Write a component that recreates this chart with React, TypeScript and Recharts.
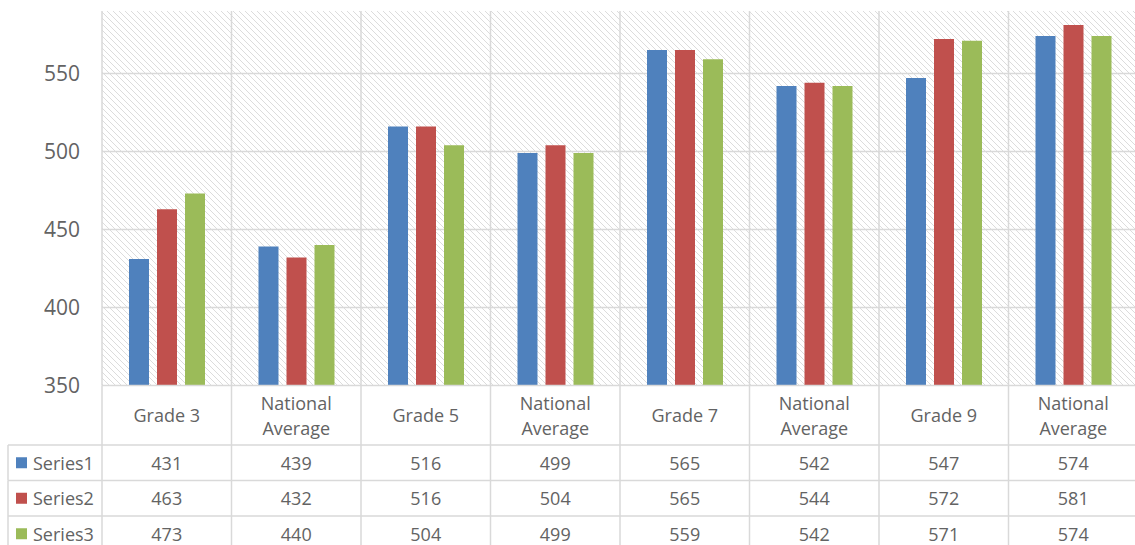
import React from 'react'
import { BarChart, Bar, XAxis, YAxis, CartesianGrid } from 'recharts'

const categories = [
  'Grade 3',
  'National Average',
  'Grade 5',
  'National Average',
  'Grade 7',
  'National Average',
  'Grade 9',
  'National Average',
]
const series1 = [431, 439, 516, 499, 565, 542, 547, 574]
const series2 = [463, 432, 516, 504, 565, 544, 572, 581]
const series3 = [473, 440, 504, 499, 559, 542, 571, 574]
const yTicks = [350, 400, 450, 500, 550]
const yDomain = [350, 590]

const seriesList = [
  { key: 's1', name: 'Series1', values: series1, color: '#4F81BD' },
  { key: 's2', name: 'Series2', values: series2, color: '#C0504D' },
  { key: 's3', name: 'Series3', values: series3, color: '#9BBB59' },
]

const data = categories.map((name, i) => ({
  name,
  s1: series1[i],
  s2: series2[i],
  s3: series3[i],
}))

const CHART_W = 1138
const CHART_H = 545
const Y_AXIS_W = 102
const BAND = (CHART_W - Y_AXIS_W) / categories.length
const HEADER_H = 59.5
const ROW_H = 35.5
const TABLE_LEFT = 8
const GRID = '#d9d9d9'
const TEXT = '#636363'
const FONT = '"Open Sans", sans-serif'

const TableTick = (props: any) => {
  const { x, y, payload, index } = props
  const left = x - BAND / 2
  const right = x + BAND / 2
  const label = String(payload.value)
  const lines = label.length > 10 ? label.split(' ') : [label]
  const lineH = 25
  const startY = y + HEADER_H / 2 - ((lines.length - 1) * lineH) / 2
  const rowTop = y + HEADER_H
  return (
    <g>
      <line x1={right} y1={y} x2={right} y2={CHART_H} stroke={GRID} strokeWidth={1.5} />
      {index === 0 && (
        <line x1={left} y1={y} x2={left} y2={CHART_H} stroke={GRID} strokeWidth={1.5} />
      )}
      {lines.map((l, i) => (
        <text
          key={i}
          x={x}
          y={startY + i * lineH}
          textAnchor="middle"
          dominantBaseline="central"
          fill={TEXT}
          fontSize={18}
          fontFamily={FONT}
        >
          {l}
        </text>
      ))}
      {seriesList.map((s, r) => {
        const top = rowTop + r * ROW_H
        return (
          <g key={s.key}>
            <line
              x1={index === 0 ? TABLE_LEFT : left}
              y1={top}
              x2={right}
              y2={top}
              stroke={GRID}
              strokeWidth={1.5}
            />
            <text
              x={x}
              y={top + ROW_H / 2}
              textAnchor="middle"
              dominantBaseline="central"
              fill={TEXT}
              fontSize={18}
              fontFamily={FONT}
            >
              {s.values[index]}
            </text>
            {index === 0 && (
              <g>
                <line x1={TABLE_LEFT} y1={top} x2={TABLE_LEFT} y2={top + ROW_H} stroke={GRID} strokeWidth={1.5} />
                <rect x={16} y={top + ROW_H / 2 - 5.5} width={11} height={11} fill={s.color} />
                <text
                  x={33}
                  y={top + ROW_H / 2}
                  dominantBaseline="central"
                  fill={TEXT}
                  fontSize={18}
                  fontFamily={FONT}
                >
                  {s.name}
                </text>
              </g>
            )}
          </g>
        )
      })}
    </g>
  )
}

export default function App() {
  return (
    <div style={{ position: 'absolute', left: 0, top: 0, width: 1135, height: 545, overflow: 'hidden', background: '#fff' }}>
      <BarChart
        width={CHART_W}
        height={CHART_H}
        data={data}
        margin={{ top: 11, right: 0, bottom: 0, left: 0 }}
        barSize={20}
        barGap={8}
      >
        <defs>
          <pattern id="hatch" width="6" height="6" patternUnits="userSpaceOnUse">
            <rect width="6" height="6" fill="#ffffff" />
            <path d="M-1,-1 L7,7 M-1,5 L1,7 M5,-1 L7,1" stroke="#dcdcdc" strokeWidth={1} />
          </pattern>
        </defs>
        <CartesianGrid
          stroke={GRID}
          strokeWidth={1.5}
          fill="url(#hatch)"
          fillOpacity={1}
          horizontalCoordinatesGenerator={({ offset }: any) =>
            yTicks
              .filter((t) => t !== yTicks[0])
              .map((t) => offset.top + (offset.height * (yDomain[1] - t)) / (yDomain[1] - yDomain[0]))
          }
          verticalCoordinatesGenerator={({ offset }: any) =>
            Array.from({ length: categories.length + 1 }, (_, i) => offset.left + (i * offset.width) / categories.length)
          }
        />
        <XAxis
          dataKey="name"
          height={CHART_H - 11 - 374.5}
          interval={0}
          tickLine={false}
          tickSize={0}
          tickMargin={0}
          axisLine={{ stroke: GRID, strokeWidth: 1.5 }}
          tick={<TableTick />}
        />
        <YAxis
          type="number"
          domain={yDomain}
          ticks={yTicks}
          interval={0}
          width={Y_AXIS_W}
          axisLine={false}
          tickLine={false}
          tickSize={0}
          tickMargin={22}
          tick={{ fill: TEXT, fontSize: 21, fontFamily: FONT }}
        />
        {seriesList.map((s) => (
          <Bar key={s.key} dataKey={s.key} name={s.name} fill={s.color} isAnimationActive={false} />
        ))}
      </BarChart>
    </div>
  )
}
